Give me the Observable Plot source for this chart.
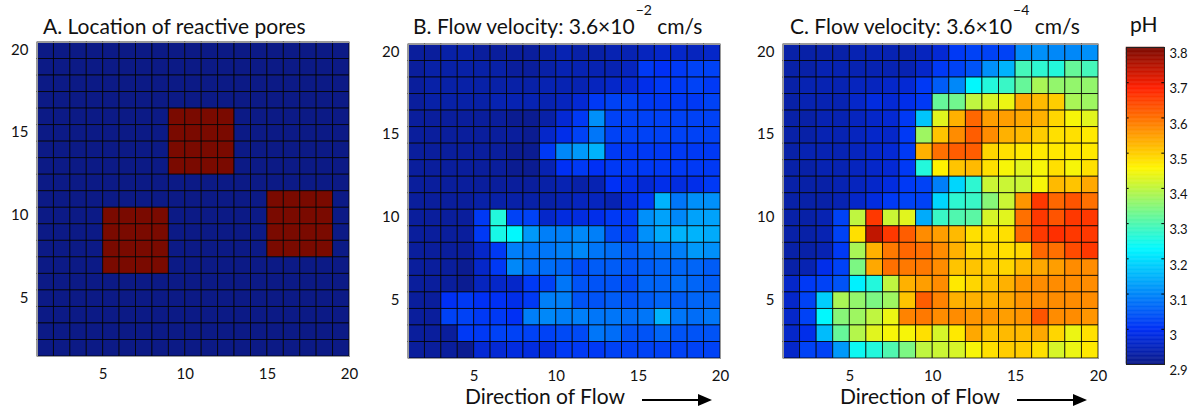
<!DOCTYPE html>
<html>
<head>
<meta charset="utf-8">
<script src="https://cdn.jsdelivr.net/npm/d3@7"></script>
<script src="https://cdn.jsdelivr.net/npm/@observablehq/plot@0.6"></script>
<style>
  html, body { margin: 0; padding: 0; background: #fff; }
  #root { position: relative; width: 1191px; height: 408px; overflow: hidden; font-family: Lato, "Open Sans", sans-serif; color: #111; }
  .abs { position: absolute; }
  .title { font-size: 21px; line-height: 21px; white-space: nowrap; }
  .title sup { font-size: 14px; position: relative; top: -5px; vertical-align: top; line-height: 0; margin-left: 1px; }
  .flow { font-size: 21px; line-height: 21px; white-space: nowrap; }
</style>
</head>
<body>
<div id="root"></div>
<script>
// ---------- DATA ----------
const xTicks = [5, 10, 15, 20];
const yTicks = [5, 10, 15, 20];
const phTicks = [2.9, 3.0, 3.1, 3.2, 3.3, 3.4, 3.5, 3.6, 3.7, 3.8];
const phDomain = [2.9, 3.8];

// Panel A: reactive pore mask, rows from y=19 (top) to y=1 (bottom), columns x=1..19
const reactiveRows = [
  "0000000000000000000",
  "0000000000000000000",
  "0000000000000000000",
  "0000000000000000000",
  "0000000011110000000",
  "0000000011110000000",
  "0000000011110000000",
  "0000000011110000000",
  "0000000000000000000",
  "0000000000000011110",
  "0000111100000011110",
  "0000111100000011110",
  "0000111100000011110",
  "0000111100000000000",
  "0000000000000000000",
  "0000000000000000000",
  "0000000000000000000",
  "0000000000000000000",
  "0000000000000000000"
];

// Panel B: pH, flow 3.6e-2 cm/s; rows y=19 (top) .. y=1 (bottom)
const phFast = [
  [2.92,2.92,2.93,2.93,2.92,2.92,2.92,2.92,2.93,2.94,2.93,2.93,2.94,2.94,2.95,2.96,2.96,2.95,2.96],
  [2.92,2.93,2.93,2.93,2.93,2.93,2.92,2.92,2.93,2.94,2.94,2.94,2.94,2.95,3.01,3.00,3.01,3.02,3.02],
  [2.92,2.93,2.93,2.93,2.93,2.93,2.93,2.93,2.94,2.94,2.94,2.95,2.96,2.97,2.99,3.01,3.01,3.02,3.01],
  [2.92,2.93,2.93,2.93,2.93,2.94,2.94,2.94,2.94,2.95,2.97,3.01,3.02,3.02,3.01,3.01,3.01,3.01,3.02],
  [2.92,2.92,2.92,2.92,2.92,2.92,2.91,2.91,2.93,2.97,3.01,3.11,3.02,3.02,3.02,3.02,3.02,3.02,3.02],
  [2.92,2.92,2.92,2.92,2.92,2.92,2.92,2.91,2.96,2.99,3.02,3.08,3.02,3.02,3.02,3.02,3.02,3.02,3.02],
  [2.92,2.92,2.92,2.92,2.92,2.92,2.91,2.91,3.01,3.10,3.12,3.15,3.01,3.01,3.01,3.01,3.01,3.01,3.01],
  [2.92,2.92,2.92,2.92,2.92,2.92,2.91,2.91,2.94,3.00,3.01,3.00,3.01,3.01,3.01,3.01,3.01,3.01,3.01],
  [2.92,2.92,2.92,2.92,2.92,2.92,2.92,2.92,2.93,2.94,2.93,2.94,3.00,2.99,2.97,2.99,2.98,2.99,3.01],
  [2.92,2.92,2.92,2.92,2.93,2.93,2.93,2.93,2.93,2.94,2.95,2.95,2.94,2.98,3.01,3.15,3.08,3.11,3.11],
  [2.92,2.92,2.92,2.92,3.01,3.26,3.02,3.02,2.96,2.98,2.98,2.99,3.01,3.01,3.11,3.13,3.10,3.13,3.13],
  [2.92,2.92,2.92,2.92,3.01,3.25,3.23,3.12,3.09,3.09,3.10,3.09,3.03,3.02,3.11,3.14,3.15,3.15,3.14],
  [2.92,2.92,2.92,2.92,2.96,3.01,3.09,3.08,3.08,3.09,3.10,3.08,3.07,3.05,3.07,3.08,3.09,3.12,3.11],
  [2.92,2.92,2.92,2.91,2.96,3.01,3.10,3.07,3.07,3.06,3.03,3.05,3.05,3.04,3.05,3.06,3.06,3.06,3.05],
  [2.92,2.92,2.92,2.91,2.95,2.96,2.96,3.01,3.02,3.08,3.04,3.04,3.04,3.03,3.06,3.06,3.07,3.06,3.05],
  [2.92,2.92,3.00,3.01,3.00,3.00,2.99,3.01,3.09,3.09,3.04,3.04,3.05,3.04,3.05,3.06,3.05,3.06,3.06],
  [2.92,2.92,3.02,3.02,3.01,3.01,3.00,3.09,3.10,3.09,3.09,3.08,3.08,3.07,3.08,3.15,3.08,3.07,3.08],
  [2.92,2.92,2.92,3.01,3.01,3.02,3.02,3.02,3.02,3.03,3.03,3.08,3.07,3.04,3.04,3.06,3.04,3.04,3.04],
  [2.92,2.92,2.92,2.91,2.97,2.97,2.98,2.98,2.98,3.01,3.01,3.01,3.02,3.02,3.02,3.02,3.02,3.02,3.02]
];

// Panel C: pH, flow 3.6e-4 cm/s; rows y=19 (top) .. y=1 (bottom)
const phSlow = [
  [2.93,2.93,2.93,2.93,2.94,2.94,2.94,2.94,2.95,2.97,3.01,3.02,3.02,3.02,3.10,3.11,3.10,3.10,3.11],
  [2.93,2.93,2.94,2.94,2.94,2.94,2.94,2.94,2.96,3.01,3.02,3.04,3.11,3.15,3.29,3.27,3.26,3.32,3.29],
  [2.93,2.94,2.94,2.94,2.95,2.95,2.96,2.97,3.01,3.05,3.10,3.23,3.26,3.28,3.32,3.38,3.36,3.36,3.36],
  [2.93,2.94,2.94,2.94,2.96,2.98,2.97,2.99,3.01,3.32,3.33,3.40,3.42,3.44,3.54,3.52,3.50,3.38,3.37],
  [2.93,2.93,2.94,2.94,2.95,2.96,2.97,3.01,3.17,3.43,3.53,3.61,3.55,3.55,3.54,3.53,3.49,3.45,3.43],
  [2.93,2.93,2.94,2.94,2.95,2.96,2.96,3.01,3.37,3.51,3.57,3.62,3.57,3.53,3.52,3.50,3.48,3.48,3.47],
  [2.93,2.94,2.94,2.94,2.95,2.96,2.97,3.01,3.53,3.60,3.62,3.62,3.49,3.48,3.47,3.47,3.47,3.47,3.47],
  [2.93,2.93,2.94,2.94,2.95,2.96,2.97,3.01,3.26,3.46,3.51,3.52,3.48,3.45,3.43,3.45,3.48,3.45,3.48],
  [2.93,2.93,2.93,2.94,2.95,2.96,2.98,3.01,3.02,3.09,3.19,3.27,3.41,3.41,3.41,3.45,3.52,3.51,3.54],
  [2.93,2.93,2.93,2.94,2.96,2.98,3.01,3.02,3.02,3.19,3.27,3.28,3.35,3.41,3.56,3.66,3.61,3.63,3.60],
  [2.93,2.93,2.94,3.02,3.40,3.66,3.41,3.43,3.14,3.28,3.30,3.31,3.42,3.43,3.60,3.66,3.63,3.66,3.66],
  [2.93,2.93,2.94,3.02,3.48,3.74,3.66,3.62,3.57,3.55,3.52,3.48,3.48,3.48,3.61,3.66,3.67,3.66,3.66],
  [2.93,2.93,2.94,3.01,3.38,3.53,3.59,3.61,3.60,3.57,3.53,3.49,3.49,3.48,3.49,3.61,3.60,3.64,3.66],
  [2.93,2.94,2.99,3.02,3.34,3.54,3.60,3.59,3.59,3.57,3.51,3.51,3.50,3.49,3.52,3.54,3.55,3.57,3.57],
  [2.96,3.01,3.02,3.04,3.22,3.26,3.40,3.53,3.55,3.57,3.47,3.49,3.51,3.53,3.56,3.57,3.57,3.57,3.57],
  [2.96,3.02,3.18,3.38,3.36,3.34,3.37,3.51,3.62,3.58,3.53,3.53,3.53,3.54,3.56,3.57,3.57,3.57,3.57],
  [2.96,3.02,3.23,3.35,3.37,3.40,3.44,3.58,3.59,3.57,3.57,3.56,3.56,3.55,3.56,3.63,3.57,3.57,3.56],
  [2.96,2.99,3.16,3.32,3.39,3.43,3.45,3.45,3.48,3.42,3.47,3.54,3.51,3.52,3.52,3.54,3.49,3.44,3.48],
  [2.96,3.02,3.02,3.12,3.24,3.26,3.30,3.34,3.40,3.41,3.42,3.45,3.48,3.50,3.50,3.48,3.42,3.44,3.47]
];

const titleA = "A. Location of reactive pores";
const titleB = ["B. Flow velocity: 3.6×10", "−2", " cm/s"];
const titleC = ["C. Flow velocity: 3.6×10", "−4", " cm/s"];
const flowLabel = "Direction of Flow";
const cbLabel = "pH";

// ---------- HELPERS ----------
// jet-like colormap, tuned to the rendered tones of the reference
const jet = d3.scaleLinear()
  .domain([0, 7/63, 23/63, 39/63, 55/63, 1])
  .range(["#0c1a86", "#0030f5", "#00f8ff", "#fff500", "#ff2000", "#7a0a00"])
  .clamp(true);
const jetInterp = t => jet(t);

function toCells(rows, parse) {
  const n = rows.length;
  const out = [];
  rows.forEach((row, r) => {
    const vals = parse(row);
    vals.forEach((v, c) => out.push({x: c + 1, y: n - r, v}));
  });
  return out;
}
const cellsA = toCells(reactiveRows, s => s.split("").map(Number));
const cellsB = toCells(phFast, a => a);
const cellsC = toCells(phSlow, a => a);

const root = document.getElementById("root");
const fontStyle = {fontFamily: "Lato, 'Open Sans', sans-serif", fontSize: "15px", background: "transparent", color: "#111", overflow: "visible"};

function panel(cells, colorDomain, left, top, mL, mT, plotW, plotH) {
  const W = 360, H = 400;
  const svg = Plot.plot({
    width: W, height: H,
    marginLeft: mL, marginTop: mT, marginRight: W - mL - plotW, marginBottom: H - mT - plotH,
    style: fontStyle,
    x: {domain: [1, 20], ticks: xTicks, tickSize: 0, tickPadding: 12, label: null},
    y: {domain: [1, 20], ticks: yTicks, tickSize: 0, tickPadding: 9, label: null},
    color: {type: "linear", domain: colorDomain, interpolate: jetInterp},
    marks: [
      Plot.rect(cells, {x1: "x", x2: d => d.x + 1, y1: "y", y2: d => d.y + 1, fill: "v", stroke: "#000", strokeWidth: 0.9, strokeOpacity: 0.85}),
      Plot.frame({stroke: "#9a9a9a", strokeWidth: 1})
    ]
  });
  svg.classList.add("abs");
  svg.style.left = left + "px";
  svg.style.top = top + "px";
  svg.querySelectorAll("g[aria-label='y-axis tick label'] text").forEach(t => t.setAttribute("dy", "0.5em"));
  root.appendChild(svg);
}

panel(cellsA, [0, 1], 0, 0, 37, 42, 312, 314);
panel(cellsB, phDomain, 370, 0, 38, 44, 312, 314);
panel(cellsC, phDomain, 746, 0, 37, 44, 315, 314);

// Titles
function addTitle(parts, left, top) {
  const d = document.createElement("div");
  d.className = "abs title";
  d.style.left = left + "px"; d.style.top = top + "px";
  if (typeof parts === "string") d.textContent = parts;
  else {
    d.appendChild(document.createTextNode(parts[0]));
    const s = document.createElement("sup"); s.textContent = parts[1]; d.appendChild(s);
    d.appendChild(document.createTextNode(parts[2]));
  }
  root.appendChild(d);
}
addTitle(titleA, 43, 15);
addTitle(titleB, 413, 15);
addTitle(titleC, 790, 15);

// Direction of Flow labels with arrows
function addFlow(textLeft, arrowLeft) {
  const d = document.createElement("div");
  d.className = "abs flow";
  d.style.left = textLeft + "px"; d.style.top = "385px";
  d.textContent = flowLabel;
  root.appendChild(d);
  const ns = "http://www.w3.org/2000/svg";
  const a = document.createElementNS(ns, "svg");
  a.setAttribute("width", 72); a.setAttribute("height", 14);
  a.setAttribute("class", "abs");
  a.style.left = arrowLeft + "px"; a.style.top = "393px";
  const ln = document.createElementNS(ns, "line");
  ln.setAttribute("x1", 0); ln.setAttribute("x2", 60); ln.setAttribute("y1", 7); ln.setAttribute("y2", 7);
  ln.setAttribute("stroke", "#000"); ln.setAttribute("stroke-width", 2);
  const hd = document.createElementNS(ns, "polygon");
  hd.setAttribute("points", "56,1 70,7 56,13");
  hd.setAttribute("fill", "#000");
  a.appendChild(ln); a.appendChild(hd);
  root.appendChild(a);
}
addFlow(465, 642);
addFlow(840, 1017);

// Colorbar
const steps = 240;
const bands = d3.range(steps).map(i => {
  const lo = phDomain[0] + (phDomain[1] - phDomain[0]) * i / steps;
  const hi = phDomain[0] + (phDomain[1] - phDomain[0]) * (i + 1) / steps;
  return {lo, hi, mid: (lo + hi) / 2};
});
const cb = Plot.plot({
  width: 91, height: 408,
  marginLeft: 26, marginRight: 91 - 26 - 38, marginTop: 47, marginBottom: 408 - 364,
  style: {...fontStyle, fontSize: "13px"},
  x: {domain: [0, 1], axis: null},
  y: {domain: phDomain, ticks: phTicks, tickFormat: d => (Math.abs(d - 3) < 1e-9 ? "3" : d.toFixed(1)), tickSize: 0, tickPadding: 5, label: null, axis: "right"},
  color: {type: "linear", domain: phDomain, interpolate: jetInterp},
  marks: [
    Plot.rect(bands, {x1: 0, x2: 1, y1: "lo", y2: "hi", fill: "mid", stroke: "mid", strokeWidth: 0.5}),
    Plot.ruleY(phTicks, {x1: 0, x2: 0.07, stroke: "#000"}),
    Plot.ruleY(phTicks, {x1: 0.93, x2: 1, stroke: "#000"}),
    Plot.frame({stroke: "#222"})
  ]
});
cb.classList.add("abs");
cb.style.left = "1100px"; cb.style.top = "0px";
cb.querySelectorAll("g[aria-label='y-axis tick label'] text").forEach(t => t.setAttribute("dy", "0.5em"));
root.appendChild(cb);

const ph = document.createElement("div");
ph.className = "abs title";
ph.style.left = "1130px"; ph.style.top = "13px";
ph.textContent = cbLabel;
root.appendChild(ph);
</script>
</body>
</html>
